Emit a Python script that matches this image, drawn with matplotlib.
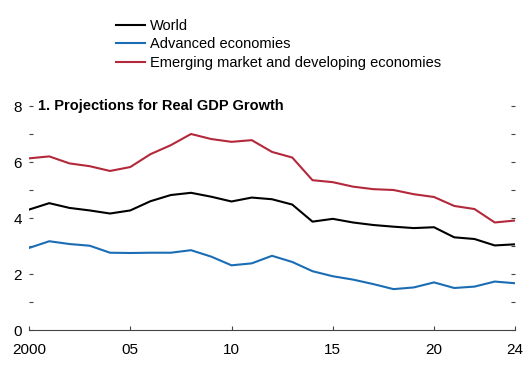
import matplotlib.pyplot as plt
from matplotlib.lines import Line2D

# data (percent)
years = list(range(2000, 2025))
world = [4.30, 4.53, 4.36, 4.27, 4.16, 4.27, 4.60, 4.82, 4.90, 4.76, 4.59, 4.73,
         4.67, 4.48, 3.87, 3.97, 3.84, 3.75, 3.69, 3.64, 3.67, 3.31, 3.25, 3.02, 3.06]
advanced = [2.93, 3.17, 3.07, 3.01, 2.76, 2.75, 2.76, 2.76, 2.85, 2.62, 2.31, 2.38,
            2.65, 2.43, 2.10, 1.92, 1.80, 1.64, 1.46, 1.52, 1.70, 1.50, 1.55, 1.73, 1.67]
emerging = [6.13, 6.20, 5.95, 5.85, 5.68, 5.82, 6.28, 6.60, 7.00, 6.82, 6.72, 6.78,
            6.36, 6.16, 5.35, 5.28, 5.12, 5.03, 5.00, 4.85, 4.75, 4.43, 4.32, 3.84, 3.91]
xticks = [2000, 2005, 2010, 2015, 2020, 2024]
xticklabels = ['2000', '05', '10', '15', '20', '24']

plt.rcParams['font.family'] = ['Liberation Sans', 'DejaVu Sans']

fig = plt.figure(figsize=(5.32, 3.67), dpi=100)
ax = fig.add_axes([29 / 532, 37 / 367, 486 / 532, 224 / 367])

black, blue, red = '#000000', '#1a6db5', '#b3283a'
ax.plot(years, world, color=black, lw=1.5)
ax.plot(years, advanced, color=blue, lw=1.5)
ax.plot(years, emerging, color=red, lw=1.5)

ax.set_xlim(2000, 2024)
ax.set_ylim(0, 8)
for s in ['top', 'left', 'right']:
    ax.spines[s].set_visible(False)
ax.spines['bottom'].set_color('#444444')

ax.set_xticks(xticks)
ax.set_xticklabels(xticklabels)
ax.set_yticks([0, 2, 4, 6, 8])
ax.set_yticks([1, 3, 5, 7], minor=True)
ax.tick_params(axis='both', which='both', direction='in', labelsize=11,
               length=3, width=0.8, color='#444444', pad=5)
ax.tick_params(axis='x', pad=9)
ax.tick_params(axis='y', which='both', right=True)

ax.text(2000.45, 8, '1. Projections for Real GDP Growth', fontsize=10.5,
        fontweight='bold', va='center', ha='left')

handles = [Line2D([], [], color=c, lw=1.5) for c in (black, blue, red)]
fig.legend(handles, ['World', 'Advanced economies',
                     'Emerging market and developing economies'],
           loc='upper left', bbox_to_anchor=(116 / 532, 1 - 19 / 367),
           frameon=False, fontsize=10.5, handlelength=2.0, handletextpad=0.35,
           labelspacing=0.3, borderaxespad=0, borderpad=0)

fig.savefig('out.png', dpi=100)
